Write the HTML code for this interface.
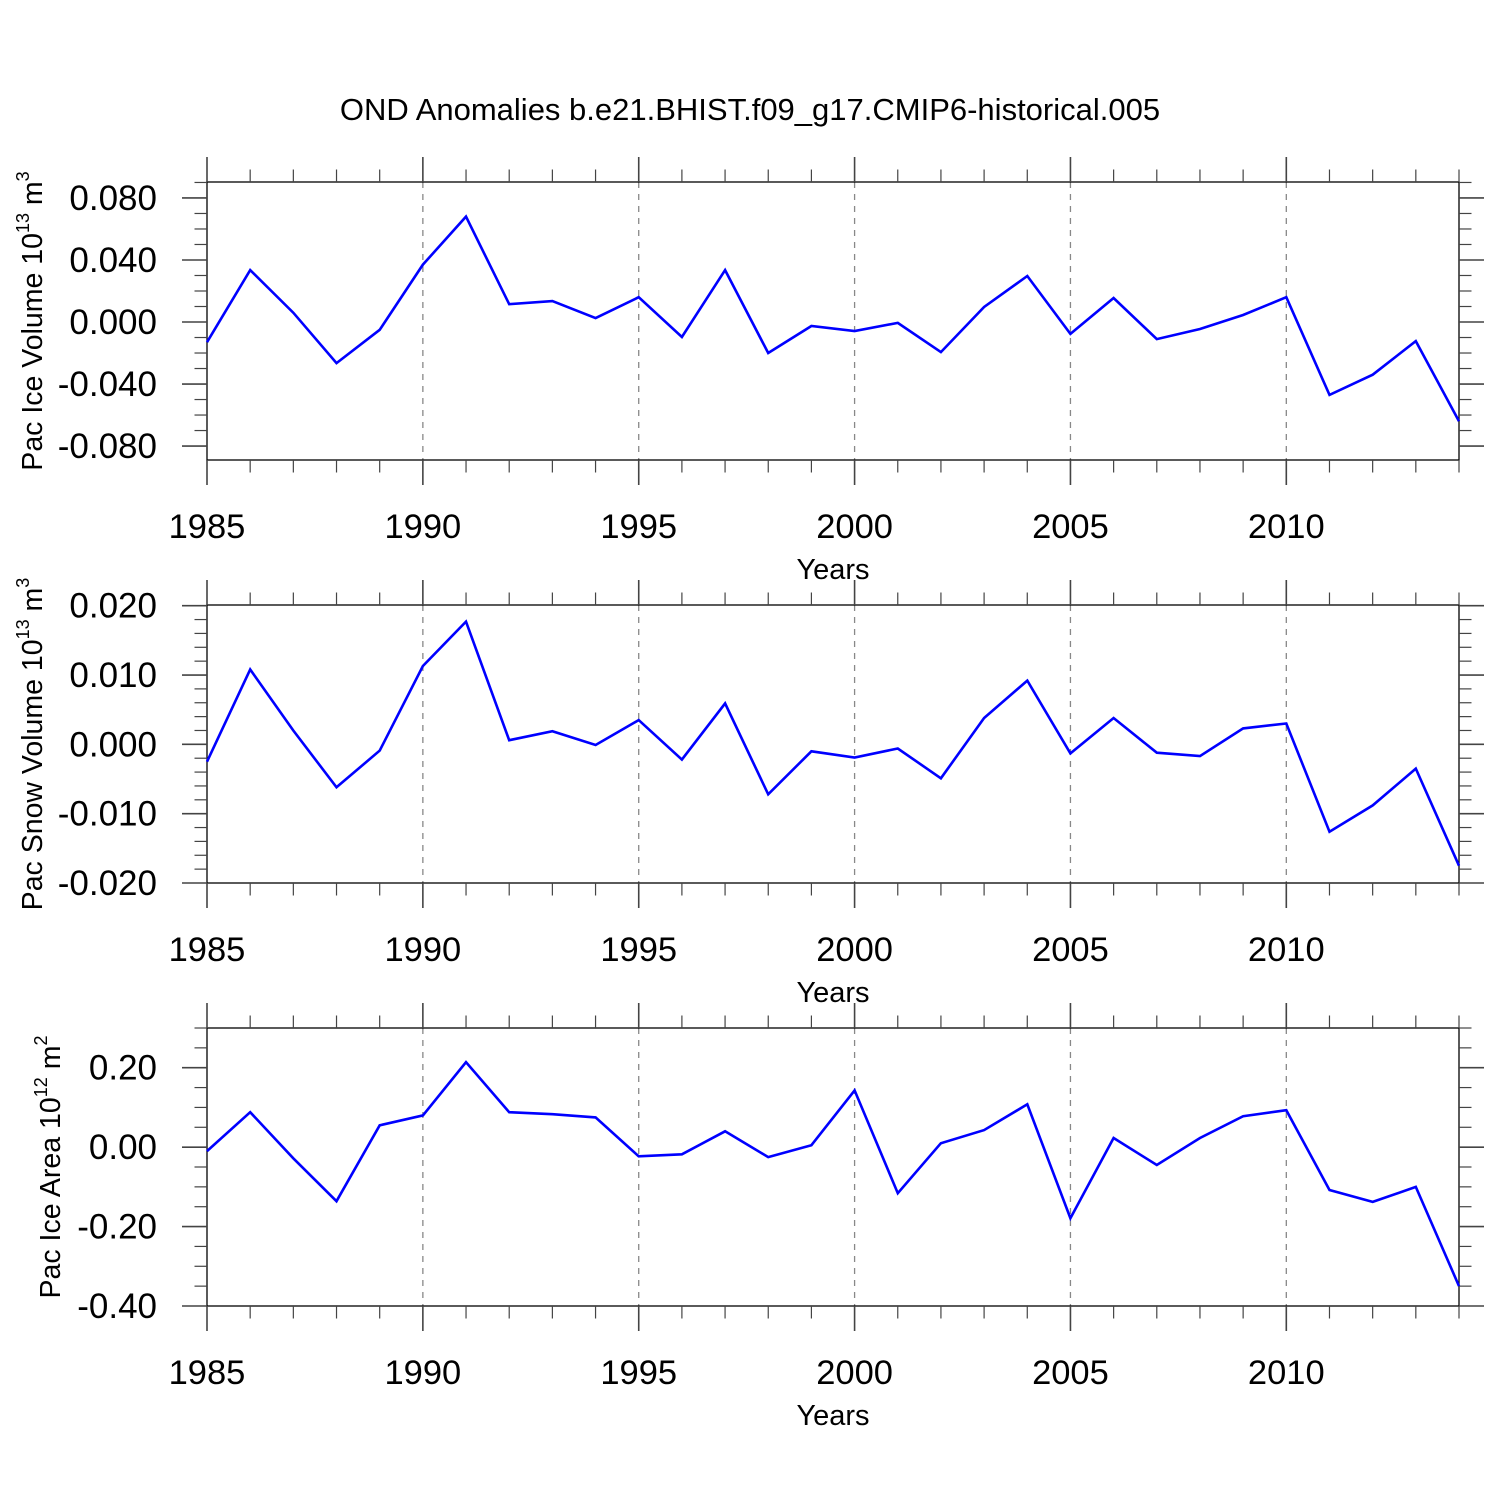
<!DOCTYPE html>
<html><head><meta charset="utf-8"><style>
html,body{margin:0;padding:0;background:#fff;}
svg{display:block;font-family:"Liberation Sans",Arial,sans-serif;}
</style></head><body>
<svg id="chart" width="1500" height="1500" viewBox="0 0 1500 1500" xmlns="http://www.w3.org/2000/svg">
<text x="750" y="120" font-size="31" text-anchor="middle">OND Anomalies b.e21.BHIST.f09_g17.CMIP6-historical.005</text>
</svg>
<script>
const years = [1985,1986,1987,1988,1989,1990,1991,1992,1993,1994,1995,1996,1997,1998,1999,2000,2001,2002,2003,2004,2005,2006,2007,2008,2009,2010,2011,2012,2013,2014];
const iceVolume = [-0.013,0.0335,0.006,-0.0265,-0.005,0.037,0.068,0.0115,0.0135,0.0025,0.016,-0.0097,0.0335,-0.020,-0.0026,-0.0058,-0.0006,-0.0194,0.0097,0.0297,-0.0077,0.0155,-0.011,-0.0045,0.0045,0.016,-0.047,-0.034,-0.0123,-0.064];
const snowVolume = [-0.0025,0.0108,0.002,-0.0062,-0.0009,0.0113,0.0177,0.0006,0.0019,-0.0001,0.0035,-0.0022,0.0059,-0.0072,-0.001,-0.0019,-0.0006,-0.0049,0.0038,0.0092,-0.0013,0.0038,-0.0012,-0.0017,0.0023,0.003,-0.0126,-0.0088,-0.0035,-0.0175];
const iceArea = [-0.01,0.088,-0.028,-0.136,0.055,0.08,0.214,0.088,0.083,0.075,-0.023,-0.018,0.04,-0.025,0.005,0.143,-0.116,0.01,0.043,0.108,-0.179,0.023,-0.045,0.023,0.078,0.093,-0.108,-0.138,-0.1,-0.35];
const xTickLabels = ["1985","1990","1995","2000","2005","2010"];
const iceVolTicks = [0.08,0.04,0,-0.04,-0.08];
const iceVolTickLabels = ["0.080","0.040","0.000","-0.040","-0.080"];
const snowTicks = [0.02,0.01,0,-0.01,-0.02];
const snowTickLabels = ["0.020","0.010","0.000","-0.010","-0.020"];
const areaTicks = [0.2,0,-0.2,-0.4];
const areaTickLabels = ["0.20","0.00","-0.20","-0.40"];

const svg = document.getElementById('chart');
const NS = 'http://www.w3.org/2000/svg';
function mk(tag, attrs, parent){
  const e = document.createElementNS(NS, tag);
  for (const k in attrs) e.setAttribute(k, attrs[k]);
  (parent||svg).appendChild(e); return e;
}
const X0 = 207, X1 = 1459;
const xScale = y => X0 + (y - 1985) / (2014 - 1985) * (X1 - X0);

function panel(key, top, bottom, yMin, yMax, vals, ticks, tickLabels, minorStep, labelMain, labelSup, labelUnit){
  const g = mk('g', {});
  
  
  const yS = v => bottom - (v - yMin) / (yMax - yMin) * (bottom - top);
  for (let yr = 1990; yr <= 2010; yr += 5) {
    const l = mk('line', {x1: xScale(yr), x2: xScale(yr), y1: top, y2: bottom, stroke: '#888', 'stroke-width': 1.3, 'stroke-dasharray': '6,6'}, g);
    
    
  }
  const r = mk('rect', {x: X0, y: top, width: X1 - X0, height: bottom - top, fill: 'none', stroke: '#000', 'stroke-width': 1.3}, g);
  
  
  for (let yr = 1985; yr <= 2014; yr++) {
    const major = (yr % 5 === 0);
    const len = major ? 25 : 12.5;
    const x = xScale(yr);
    mk('line', {x1: x, x2: x, y1: top, y2: top - len, stroke: '#444', 'stroke-width': major ? 1.6 : 1.2}, g);
    mk('line', {x1: x, x2: x, y1: bottom, y2: bottom + len, stroke: '#444', 'stroke-width': major ? 1.6 : 1.2}, g);
  }
  xTickLabels.forEach(t => {
    const tx = mk('text', {x: xScale(+t), y: bottom + 78, 'font-size': 34.5, 'text-anchor': 'middle'}, g);
    tx.textContent = t;
    
    
  });
  const xt = mk('text', {x: 833, y: bottom + 119, 'font-size': 29, 'text-anchor': 'middle'}, g);
  xt.textContent = 'Years';
  
  
  const n0 = Math.ceil(yMin / minorStep - 1e-6), n1 = Math.floor(yMax / minorStep + 1e-6);
  for (let i = n0; i <= n1; i++) {
    const v = i * minorStep, y = yS(v);
    const isMajor = ticks.some(t => Math.abs(t - v) < minorStep / 10);
    const len = isMajor ? 25 : 12.5;
    mk('line', {x1: X0, x2: X0 - len, y1: y, y2: y, stroke: '#444', 'stroke-width': isMajor ? 1.6 : 1.2}, g);
    mk('line', {x1: X1, x2: X1 + len, y1: y, y2: y, stroke: '#444', 'stroke-width': isMajor ? 1.6 : 1.2}, g);
  }
  ticks.forEach((t, i) => {
    const tx = mk('text', {x: 157, y: yS(t) + 12, 'font-size': 35, 'text-anchor': 'end'}, g);
    tx.textContent = tickLabels[i];
    
    
  });
  const cy = (top + bottom) / 2;
  const yt = mk('text', {x: 0, y: 0, 'font-size': 28.5, 'text-anchor': 'middle', transform: `translate(${key==='ice-area'?60:42},${cy}) rotate(-90)`}, g);
  
  
  const s1 = mk('tspan', {}, yt); s1.textContent = labelMain + ' 10';
  const s2 = mk('tspan', {'font-size': 18, dy: -13}, yt); s2.textContent = labelSup;
  const s3 = mk('tspan', {dy: 13}, yt); s3.textContent = ' m';
  const s4 = mk('tspan', {'font-size': 18, dy: -13}, yt); s4.textContent = labelUnit;
  const pts = vals.map((v, i) => xScale(years[i]).toFixed(1) + ',' + yS(v).toFixed(1)).join(' ');
  const pl = mk('polyline', {points: pts, fill: 'none', stroke: '#0000ff', 'stroke-width': 2.6, 'stroke-linejoin': 'miter'}, g);
  
  
}
panel('ice-volume', 182, 460, -0.0890, 0.0903, iceVolume, iceVolTicks, iceVolTickLabels, 0.01, 'Pac Ice Volume', '13', '3');
panel('snow-volume', 605, 883, -0.0200, 0.0201, snowVolume, snowTicks, snowTickLabels, 0.002, 'Pac Snow Volume', '13', '3');
panel('ice-area', 1028, 1306, -0.40, 0.30, iceArea, areaTicks, areaTickLabels, 0.05, 'Pac Ice Area', '12', '2');
</script>
</body></html>
